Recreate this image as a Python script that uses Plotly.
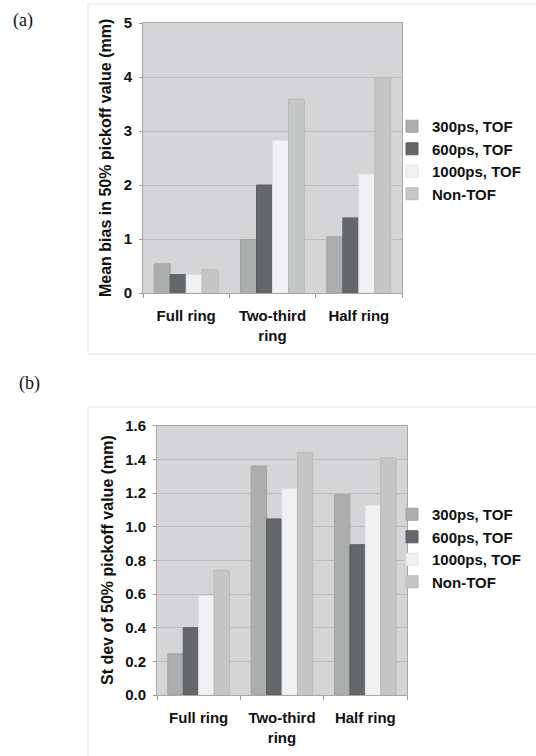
import plotly.graph_objects as go

W, H = 536, 756

categories = ["Full ring", "Two-third<br>ring", "Half ring"]
series_names = ["300ps, TOF", "600ps, TOF", "1000ps, TOF", "Non-TOF"]

bias_300 = [0.54, 0.99, 1.04]
bias_600 = [0.34, 2.00, 1.39]
bias_1000 = [0.34, 2.83, 2.20]
bias_nontof = [0.43, 3.59, 3.99]

sd_300 = [0.245, 1.36, 1.19]
sd_600 = [0.40, 1.046, 0.893]
sd_1000 = [0.59, 1.228, 1.127]
sd_nontof = [0.74, 1.44, 1.41]

colors = ["#acadad", "#646769", "#f1f1f3", "#c5c6c6"]
edge_colors = ["#a2a3a3", "#5b5e60", "#e2e2e4", "#b9baba"]

fig = go.Figure()

for name, vals, col, ec in zip(series_names, [bias_300, bias_600, bias_1000, bias_nontof], colors, edge_colors):
    fig.add_trace(go.Bar(x=categories, y=vals, name=name, marker=dict(color=col, line=dict(width=1, color=ec)),
                         xaxis="x", yaxis="y", legend="legend"))
for name, vals, col, ec in zip(series_names, [sd_300, sd_600, sd_1000, sd_nontof], colors, edge_colors):
    fig.add_trace(go.Bar(x=categories, y=vals, name=name, marker=dict(color=col, line=dict(width=1, color=ec)),
                         xaxis="x2", yaxis="y2", legend="legend2"))

def px_x(p):
    return p / W

def px_y(p):
    return 1 - p / H

font = dict(family="Liberation Sans, Arial, sans-serif", size=15, color="#111111", weight="bold")
title_font = dict(family="Liberation Sans, Arial, sans-serif", size=16, color="#111111", weight="bold")
serif = dict(family="Liberation Serif, Times New Roman, serif", size=18, color="#111111", weight="normal")
bg = "#d5d5d7"
grid = "#bcbcbe"

common_x = dict(type="category", showgrid=False, ticks="outside", tickson="boundaries", ticklen=4,
                tickcolor="#9a9a9a", showline=True, linecolor="#a8a8a8", mirror=True,
                tickfont=font, ticklabelstandoff=9, automargin=False)
common_y = dict(showgrid=True, gridcolor=grid, gridwidth=1, ticks="outside", ticklen=3,
                tickcolor="#9a9a9a", showline=True, linecolor="#a8a8a8", mirror=True,
                tickfont=font, zeroline=False, ticklabelstandoff=4, automargin=False)

fig.update_layout(
    width=W, height=H,
    margin=dict(l=0, r=0, t=0, b=0, autoexpand=False),
    paper_bgcolor="white",
    plot_bgcolor=bg,
    barmode="group",
    bargap=0.26,
    bargroupgap=0,
    font=font,
    xaxis=dict(domain=[px_x(143), px_x(402)], anchor="y", **common_x),
    yaxis=dict(domain=[px_y(293), px_y(23)], anchor="x", range=[0, 5], dtick=1, **common_y),
    xaxis2=dict(domain=[px_x(157), px_x(407)], anchor="y2", **common_x),
    yaxis2=dict(domain=[px_y(695), px_y(425.7)], anchor="x2", range=[0, 1.6], dtick=0.2,
                tickformat=".1f", **common_y),
    legend=dict(x=px_x(392), y=px_y(110), xanchor="left", yanchor="top", font=font,
                bgcolor="rgba(0,0,0,0)", tracegroupgap=0, itemwidth=30),
    legend2=dict(x=px_x(392), y=px_y(498), xanchor="left", yanchor="top", font=font,
                 bgcolor="rgba(0,0,0,0)", tracegroupgap=0, itemwidth=30),
    shapes=[
        dict(type="rect", xref="paper", yref="paper", x0=px_x(88), x1=px_x(560), y0=px_y(354), y1=px_y(4),
             line=dict(color="#e4e4e4", width=1), fillcolor="rgba(0,0,0,0)", layer="below"),
        dict(type="rect", xref="paper", yref="paper", x0=px_x(88), x1=px_x(560), y0=px_y(780), y1=px_y(407),
             line=dict(color="#e4e4e4", width=1), fillcolor="rgba(0,0,0,0)", layer="below"),
    ],
    annotations=[
        dict(text="Mean bias in 50% pickoff value (mm)", x=px_x(106), y=px_y(158), xref="paper", yref="paper",
             textangle=-90, showarrow=False, font=title_font, xanchor="center", yanchor="middle"),
        dict(text="St dev of 50% pickoff value (mm)", x=px_x(107), y=px_y(560), xref="paper", yref="paper",
             textangle=-90, showarrow=False, font=title_font, xanchor="center", yanchor="middle"),
        dict(text="(a)", x=px_x(11), y=px_y(20), xref="paper", yref="paper", showarrow=False,
             font=serif, xanchor="left", yanchor="middle"),
        dict(text="(b)", x=px_x(17), y=px_y(383), xref="paper", yref="paper", showarrow=False,
             font=serif, xanchor="left", yanchor="middle"),
    ],
)

page_css = ("document.body.style.margin='0';document.body.style.padding='0';"
            "document.documentElement.style.overflow='hidden';document.body.style.overflow='hidden';")

fig.write_html("out.html", post_script=page_css, config={"displayModeBar": False})
